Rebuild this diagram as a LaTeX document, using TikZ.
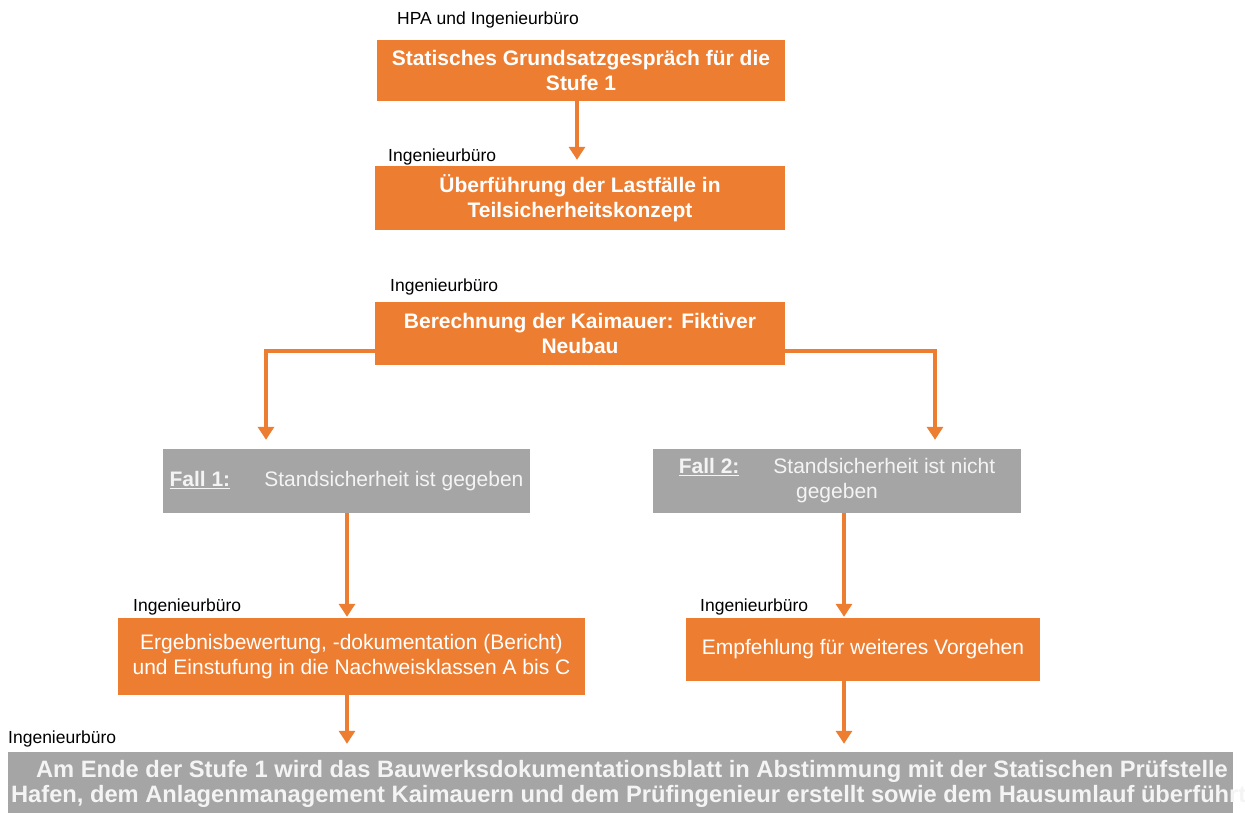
\documentclass[tikz,border=0pt]{standalone}
\usepackage{fontspec}
\setmainfont{Liberation Sans}
\usetikzlibrary{arrows.meta,calc}
\definecolor{hpaorange}{HTML}{ED7D31}
\definecolor{hpagray}{HTML}{A5A5A5}
\definecolor{paletext}{HTML}{F4F4F4}
\begin{document}
\begin{tikzpicture}[x=1pt,y=-1pt,
  obox/.style={fill=hpaorange, text=white, font=\fontsize{21}{25}\selectfont\bfseries, align=center, inner sep=0pt},
  obreg/.style={fill=hpaorange, text=white, font=\fontsize{21}{25}\selectfont, align=center, inner sep=0pt},
  gbox/.style={fill=hpagray, text=paletext, font=\fontsize{21}{25}\selectfont, align=center, inner sep=0pt},
  lbl/.style={font=\fontsize{17.5}{20}\selectfont, text=black, anchor=base west, inner sep=0pt},
  arr/.style={draw=hpaorange, line width=3.5pt, -{Triangle[width=16pt,length=13pt]}},
]
\useasboundingbox (0,0) rectangle (1245,812);
\clip (0,0) rectangle (1245,812);

% top chain
\node[lbl] (l1) at (397,24) {HPA und Ingenieurbüro};
\node[obox, minimum width=408, minimum height=61] (b1) at (581,70.5) {Statisches Grundsatzgespräch für die\\Stufe 1};

\node[lbl] (l2) at (388,161) {Ingenieurbüro};
\node[obox, minimum width=410, minimum height=64] (b2) at (580,198) {Überführung der Lastfälle in\\Teilsicherheitskonzept};

\node[lbl] (l3) at (390,291) {Ingenieurbüro};
\node[obox, minimum width=410, minimum height=63] (b3) at (580,333.5) {Berechnung der Kaimauer: Fiktiver\\Neubau};

% cases
\node[gbox, minimum width=367, minimum height=64] (f1) at (346.5,481) {\underline{\textbf{Fall 1:}}\hspace{34pt}Standsicherheit ist gegeben};
\node[gbox, minimum width=368, minimum height=64] (f2) at (837,481) {\underline{\textbf{Fall 2:}}\hspace{34pt}Standsicherheit ist nicht\\gegeben};

% results
\node[lbl] (l4) at (133,611) {Ingenieurbüro};
\node[obreg, minimum width=467, minimum height=77] (e1) at (351.5,656.5) {Ergebnisbewertung, -dokumentation (Bericht)\\und Einstufung in die Nachweisklassen A bis C};

\node[lbl] (l5) at (700,611) {Ingenieurbüro};
\node[obreg, minimum width=354, minimum height=63] (e2) at (863,649.5) {Empfehlung für weiteres Vorgehen};

% bottom
\node[lbl] (l6) at (8,743) {Ingenieurbüro};
\node[fill=hpagray, minimum width=1225, minimum height=64, inner sep=0pt] (bot) at (620.5,784) {};
\node[text=paletext, font=\fontsize{23.7}{25}\selectfont\bfseries, align=center, inner sep=0pt] (bt) at (632,784)
  {Am Ende der Stufe 1 wird das Bauwerksdokumentationsblatt in Abstimmung mit der Statischen Prüfstelle\\Hafen, dem Anlagenmanagement Kaimauern und dem Prüfingenieur erstellt sowie dem Hausumlauf überführt.};

% connector columns
\coordinate (kL) at (266,351);
\coordinate (kR) at (935,351);
\coordinate (cL) at (347,0);
\coordinate (cR) at (844,0);

\draw[arr, shorten >=6pt] ([xshift=-4pt]b1.south) -- ([xshift=-4pt]b1.south |- b2.north);
\draw[arr, shorten >=9pt] (b3.west |- kL) -- (kL) -- (f1.north -| kL);
\draw[arr, shorten >=9pt] (b3.east |- kR) -- (kR) -- (f2.north -| kR);
\draw[arr, shorten >=1pt] (f1.south -| cL) -- (e1.north -| cL);
\draw[arr, shorten >=1pt] (f2.south -| cR) -- (e2.north -| cR);
\draw[arr, shorten >=8pt] (e1.south -| cL) -- (bot.north -| cL);
\draw[arr, shorten >=8pt] (e2.south -| cR) -- (bot.north -| cR);
\end{tikzpicture}
\end{document}
